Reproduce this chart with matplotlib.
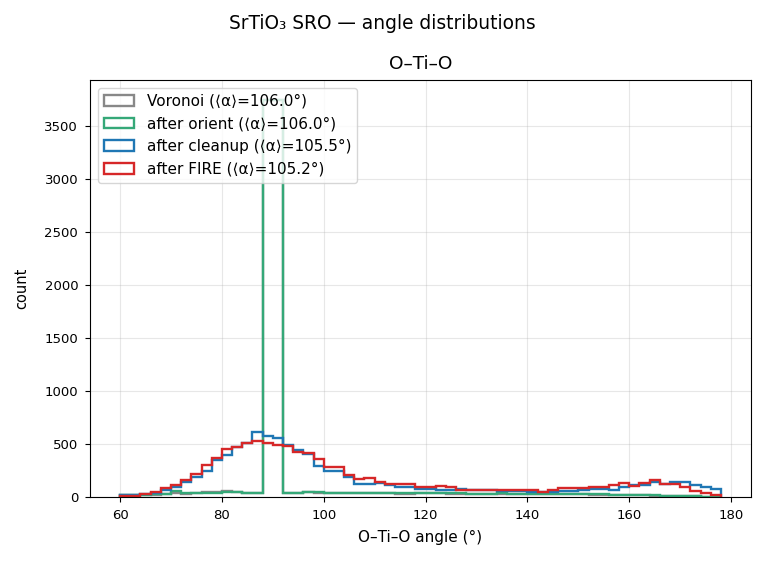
import numpy as np
import matplotlib
matplotlib.use("Agg")
import matplotlib.pyplot as plt

# bin edges 60..178 step 2 (59 bins)
bin_edges = list(range(60, 180, 2))
bin_centers = [e + 1 for e in bin_edges[:-1]]

voronoi = [18, 22, 20, 22, 30, 40, 30, 38, 45, 50, 55, 50, 40, 35, 3745, 3745,
           38, 40, 45, 42, 38, 36, 38, 35, 36, 38, 34, 33, 32, 35, 36, 34,
           33, 32, 30, 28, 30, 32, 30, 28, 26, 28, 25, 26, 24, 25, 22, 22,
           20, 20, 18, 16, 14, 12, 10, 8, 5, 0, 0]
orient = [20, 20, 20, 25, 30, 55, 35, 35, 38, 40, 45, 50, 35, 35, 3750, 3750,
          40, 42, 48, 45, 40, 38, 40, 38, 38, 40, 36, 35, 35, 38, 40, 36,
          35, 34, 32, 30, 32, 34, 32, 30, 28, 30, 27, 28, 26, 27, 24, 24,
          22, 22, 20, 18, 15, 13, 11, 9, 6, 0, 0]
cleanup = [15, 15, 25, 40, 66, 98, 140, 193, 249, 350, 397, 470, 514, 612, 580, 561,
           492, 445, 407, 293, 249, 249, 186, 123, 123, 130, 110, 98, 98, 76, 76, 66,
           66, 79, 66, 64, 62, 60, 58, 55, 50, 45, 48, 55, 60, 66, 76, 76,
           66, 91, 110, 110, 142, 125, 142, 142, 110, 91, 76]
fire = [5, 10, 30, 50, 82, 113, 161, 215, 303, 366, 451, 470, 508, 533, 511, 492,
        482, 429, 419, 357, 281, 281, 208, 167, 177, 145, 120, 120, 120, 98, 98, 104,
        91, 70, 68, 68, 66, 64, 62, 62, 66, 50, 66, 82, 82, 82, 91, 91,
        113, 129, 104, 129, 161, 120, 123, 91, 57, 35, 16]

labels = ["Voronoi (⟨α⟩=106.0°)", "after orient (⟨α⟩=106.0°)",
          "after cleanup (⟨α⟩=105.5°)", "after FIRE (⟨α⟩=105.2°)"]
colors = ["#888888", "#35a878", "#1f77b4", "#d62728"]

fig = plt.figure(figsize=(7.64, 5.62), dpi=100)
ax = fig.add_axes([90 / 764, 1 - 497 / 562, (751 - 90) / 764, (497 - 80) / 562])

for vals, lab, col in zip([voronoi, orient, cleanup, fire], labels, colors):
    ax.hist(bin_centers, bins=bin_edges, weights=vals, histtype="step",
            color=col, linewidth=1.7, label=lab)

ax.set_xlim(54.1, 183.9)
ax.set_ylim(0, 3937)
ax.grid(True, alpha=0.3)
ax.tick_params(labelsize=9.5, pad=5)
ax.set_xlabel("O–Ti–O angle (°)", fontsize=11, labelpad=6)
ax.set_ylabel("count", fontsize=10.5, labelpad=11)
ax.set_title("O–Ti–O", fontsize=13.3, pad=8)
fig.suptitle("SrTiO₃ SRO — angle distributions", fontsize=13.4, y=0.975)
ax.legend(loc="upper left", fontsize=11, framealpha=0.8, handlelength=2.0)

fig.savefig("out.png", dpi=100)
